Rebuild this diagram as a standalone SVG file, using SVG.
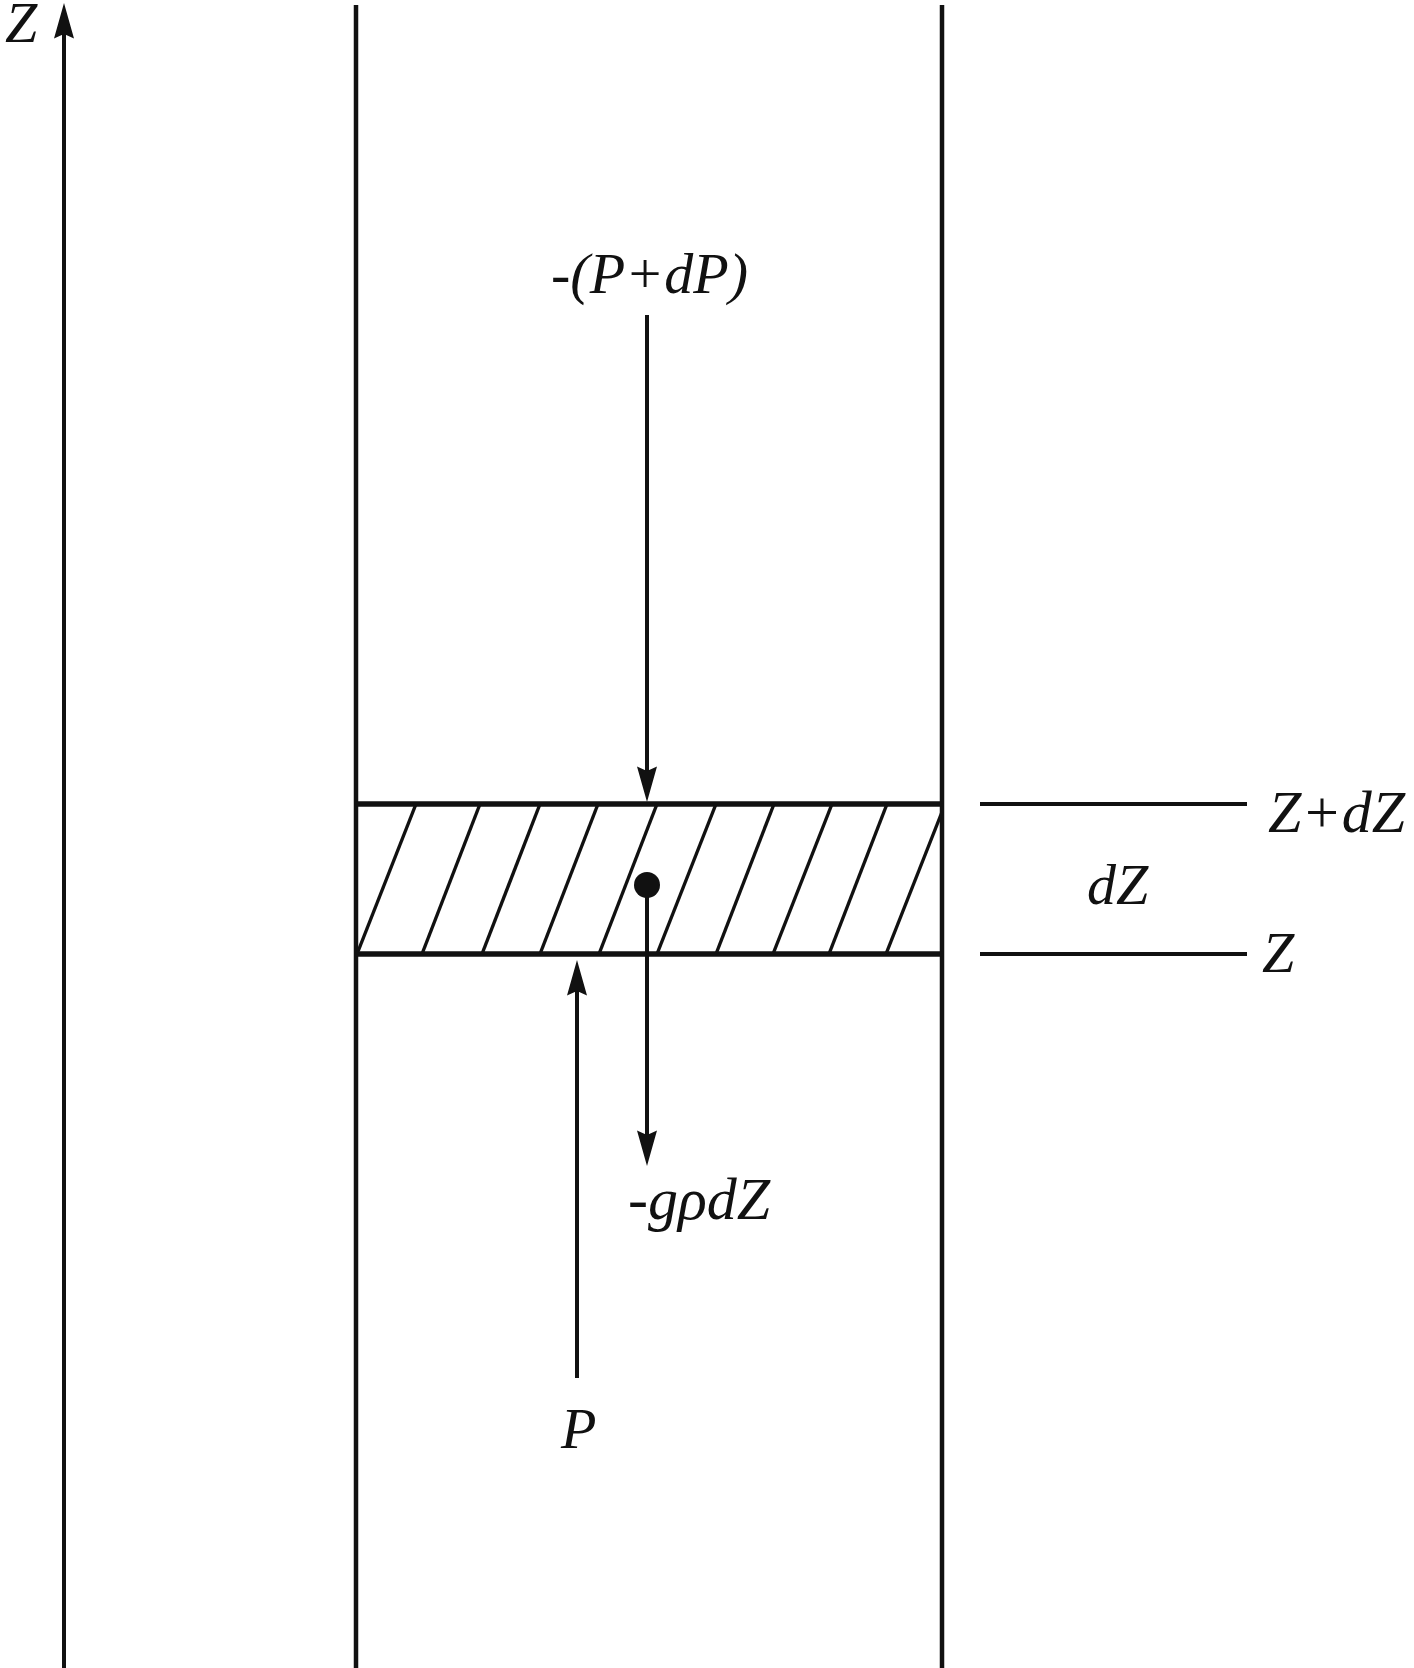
<svg xmlns="http://www.w3.org/2000/svg" width="1414" height="1668" viewBox="0 0 1414 1668">
<style>
.wall{stroke:#111;stroke-width:4.5;fill:none}
.band{stroke:#111;stroke-width:5.5;fill:none}
.hatch{stroke:#111;stroke-width:3.4;fill:none}
.ref{stroke:#111;stroke-width:4;fill:none}
.arr{stroke:#111;stroke-width:4;fill:none;marker-end:url(#ah)}
.lbl{font-family:"Liberation Serif","Times New Roman",serif;font-style:italic;font-size:58px;fill:#111}
.big{font-size:60px}
</style>
<defs>
<marker id="ah" markerUnits="userSpaceOnUse" markerWidth="40" markerHeight="24" refX="0" refY="0" viewBox="-6 -10 36 20" orient="auto" overflow="visible">
<path d="M28,0 L-4,-9 L0,0 L-4,9 Z" fill="#111"/>
</marker>
</defs>
<rect width="1414" height="1668" fill="#fff"/>
<g id="axis">
<line class="arr" x1="64" y1="1668" x2="64" y2="34"/>
<text class="lbl" x="5" y="42">Z</text>
</g>
<g id="column">
<line class="wall" x1="356" y1="5" x2="356" y2="1668"/>
<line class="wall" x1="942" y1="5" x2="942" y2="1668"/>
</g>
<g id="element">
<line class="band" x1="356" y1="804" x2="942" y2="804"/>
<line class="band" x1="356" y1="954" x2="942" y2="954"/>
<g id="hatching">
<line class="hatch" x1="357" y1="954" x2="416" y2="804"/>
<line class="hatch" x1="422" y1="954" x2="480" y2="804"/>
<line class="hatch" x1="482" y1="954" x2="540" y2="804"/>
<line class="hatch" x1="540" y1="954" x2="598" y2="804"/>
<line class="hatch" x1="599" y1="954" x2="657" y2="804"/>
<line class="hatch" x1="657" y1="954" x2="716" y2="804"/>
<line class="hatch" x1="716" y1="954" x2="774" y2="804"/>
<line class="hatch" x1="773" y1="954" x2="832" y2="804"/>
<line class="hatch" x1="829" y1="954" x2="887" y2="804"/>
<line class="hatch" x1="886" y1="954" x2="942" y2="812"/>
</g>
<circle cx="647" cy="885" r="13" fill="#111"/>
</g>
<g id="levels">
<line class="ref" x1="980" y1="804" x2="1247" y2="804"/>
<line class="ref" x1="980" y1="954" x2="1247" y2="954"/>
<text class="lbl big" x="1268" y="832">Z+dZ</text>
<text class="lbl" x="1087" y="904">dZ</text>
<text class="lbl" x="1262" y="972">Z</text>
</g>
<g id="connectors">
<line class="arr" x1="647" y1="315" x2="647" y2="771"/>
<line class="arr" x1="647" y1="885" x2="647" y2="1135"/>
<line class="arr" x1="577" y1="1378" x2="577" y2="991"/>
</g>
<g id="labels">
<text class="lbl" x="551" y="293">-(P+dP)</text>
<text class="lbl big" x="628" y="1219">-gρdZ</text>
<text class="lbl" x="561" y="1448">P</text>
</g>
</svg>
